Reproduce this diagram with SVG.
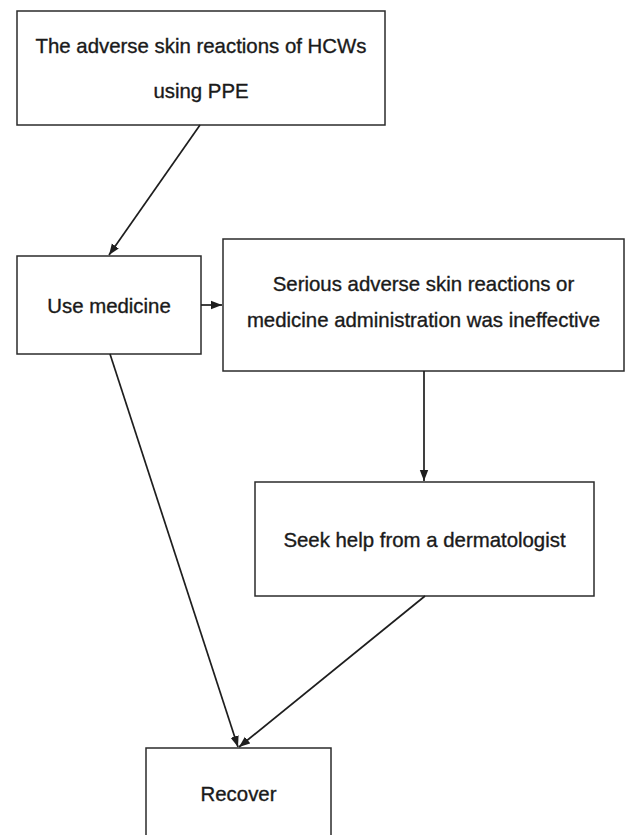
<svg xmlns="http://www.w3.org/2000/svg" width="632" height="835" viewBox="0 0 632 835">
<style>
.box{fill:#fff;stroke:#2b2b2b;stroke-width:1.5}
.lbl{font-family:"Liberation Sans",Arial,sans-serif;font-size:20.4px;fill:#1a1a1a;stroke:#1a1a1a;stroke-width:0.35;text-anchor:middle}
.edge{stroke:#1e1e1e;stroke-width:1.7;fill:none;marker-end:url(#ah)}
</style>
<defs>
<marker id="ah" markerUnits="userSpaceOnUse" markerWidth="12" markerHeight="10" viewBox="0 0 12 10" refX="11" refY="5" orient="auto">
<path d="M0,0.8 L11,5 L0,9.2 Z" fill="#1e1e1e"/>
</marker>
</defs>
<rect width="632" height="835" fill="#fff"/>
<g id="n1"><rect class="box" x="17" y="11" width="368" height="114"/>
<text class="lbl" x="201" y="53">The adverse skin reactions of HCWs</text>
<text class="lbl" x="201" y="98">using PPE</text></g>
<g id="n2"><rect class="box" x="17" y="256" width="184" height="98"/>
<text class="lbl" x="109" y="313">Use medicine</text></g>
<g id="n3"><rect class="box" x="223" y="239" width="401" height="132"/>
<text class="lbl" x="423.5" y="291">Serious adverse skin reactions or</text>
<text class="lbl" x="423.5" y="327">medicine administration was ineffective</text></g>
<g id="n4"><rect class="box" x="255" y="482" width="339" height="114"/>
<text class="lbl" x="424.5" y="547">Seek help from a dermatologist</text></g>
<g id="n5"><rect class="box" x="146" y="748" width="185" height="110"/>
<text class="lbl" x="238.5" y="801">Recover</text></g>
<g id="edges">
<line class="edge" x1="200" y1="125" x2="109" y2="255"/>
<line class="edge" x1="201" y1="305" x2="222" y2="305"/>
<line class="edge" x1="424" y1="371" x2="424" y2="481"/>
<line class="edge" x1="110" y1="354" x2="238" y2="747"/>
<line class="edge" x1="425" y1="596" x2="239" y2="747"/>
</g>
</svg>
